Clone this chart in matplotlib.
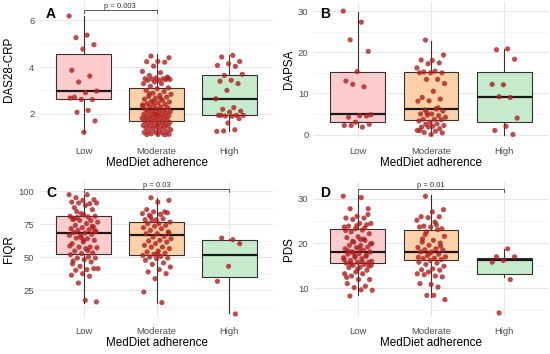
import numpy as np
import matplotlib
matplotlib.use("Agg")
import matplotlib.pyplot as plt
from matplotlib.ticker import MultipleLocator

plt.rcParams['font.family'] = ['Liberation Sans', 'DejaVu Sans']

groups = ["Low", "Moderate", "High"]
xlabel_text = "MedDiet adherence"

# ---------------- Panel A: DAS28-CRP ----------------
A_low = [6.19, 5.37, 5.26, 4.96, 4.77, 3.86, 3.61, 3.36, 2.97, 2.90, 2.71, 2.60,
         2.61, 2.67, 2.14, 2.06, 1.69, 1.20]
A_mod = [4.47, 4.40, 4.24, 4.23, 4.21, 4.04, 3.81, 3.76, 3.64, 3.57, 3.53, 3.50,
         3.50, 3.49, 3.47, 3.43, 3.43, 3.46, 3.36, 3.29, 3.29, 3.17, 3.11, 3.07,
         3.00, 2.95, 2.88, 2.83, 2.79, 2.74, 2.71, 2.67, 2.62, 2.57, 2.52, 2.50,
         2.46, 2.43, 2.40, 2.36, 2.31, 2.29, 2.31, 2.25, 2.21, 2.18, 2.14, 2.11,
         2.09, 2.07, 2.07, 2.03, 2.00, 1.97, 1.95, 1.93, 1.91, 1.89, 1.86, 1.85,
         1.83, 1.80, 1.79, 1.76, 1.74, 1.72, 1.69, 1.66, 1.64, 1.62, 1.60, 1.57,
         1.54, 1.52, 1.50, 1.48, 1.46, 1.46, 1.43, 1.39, 1.39, 1.35, 1.31, 1.29,
         1.26, 1.24, 1.21, 1.20, 1.18, 1.14, 1.12, 1.11, 1.10, 1.07, 2.55, 2.38,
         2.65, 2.85, 3.52, 1.98]
A_high = [4.50, 4.43, 4.24, 4.14, 4.07, 4.03, 3.64, 3.69, 3.43, 3.39, 3.29, 3.00,
          2.64, 2.26, 2.19, 2.11, 2.07, 1.93, 1.93, 1.90, 1.93, 1.89, 1.93, 1.79,
          1.60, 1.24, 1.31, 1.26]
A_q1 = [2.61, 1.70, 1.93]
A_med = [2.96, 2.21, 2.64]
A_q3 = [4.57, 3.11, 3.64]
A_wlo = [1.21, 1.07, 1.24]
A_whi = [6.19, 4.54, 4.50]

# ---------------- Panel B: DAPSA ----------------
B_low = [30.0, 27.3, 23.0, 20.2, 15.3, 13.0, 11.6, 12.2, 4.8, 4.6, 4.2, 4.5,
         3.0, 2.2, 1.8, 2.2, 2.5]
B_mod = [22.96, 19.3, 18.0, 18.1, 17.4, 17.2, 16.2, 15.4, 15.2, 15.0, 15.0, 15.0,
         13.4, 13.4, 12.4, 10.5, 9.0, 8.6, 8.2, 8.1, 6.2, 6.0, 5.7, 5.0, 5.0, 4.6,
         4.7, 4.2, 3.7, 3.7, 3.6, 3.0, 3.3, 2.6, 2.5, 2.2, 2.0, 1.8, 1.4, 1.8, 1.0,
         0.8, 0.5, 0.4, 0.0, 1.0, 6.5, 5.3]
B_high = [20.8, 20.6, 18.3, 12.1, 12.2, 9.0, 9.2, 4.0, 2.0, 1.0, 0.0]
B_q1 = [3.1, 3.6, 2.96]
B_med = [4.96, 6.24, 9.2]
B_q3 = [15.2, 15.2, 15.2]
B_wlo = [1.8, 0.0, 0.0]
B_whi = [29.8, 22.8, 20.8]

# ---------------- Panel C: FIQR ----------------
C_low = [97.3, 97.3, 95.0, 93.5, 93.0, 91.7, 90.5, 91.0, 91.0, 89.2, 87.5, 86.0,
         83.0, 81.0, 80.5, 80.0, 81.0, 82.0, 78.6, 77.9, 77.9, 76.6, 75.4, 74.1,
         72.9, 72.4, 71.6, 70.8, 70.3, 69.6, 68.3, 68.6, 67.3, 66.6, 66.6, 64.0,
         64.5, 62.8, 61.5, 60.3, 57.7, 57.7, 57.2, 56.5, 54.7, 53.2, 52.7, 51.9,
         50.2, 49.4, 49.4, 48.2, 47.2, 46.4, 43.1, 41.4, 40.6, 40.1, 41.4, 37.6,
         36.4, 35.6, 30.5, 16.2, 17.4, 79.0, 73.5, 65.0, 58.5, 55.0, 84.5, 70.0,
         63.0, 45.0]
C_mod = [95.0, 93.0, 91.7, 86.0, 84.3, 84.3, 83.0, 82.4, 81.7, 83.6, 78.4, 78.4,
         79.1, 77.9, 76.6, 75.4, 75.4, 74.1, 73.4, 72.4, 71.6, 70.3, 69.1, 67.8,
         67.8, 65.8, 65.3, 64.0, 62.8, 62.3, 61.5, 60.3, 59.0, 57.7, 57.7, 56.5,
         54.7, 54.0, 53.2, 52.2, 51.4, 50.7, 50.2, 49.4, 48.9, 47.7, 45.7, 44.6,
         42.6, 40.6, 38.9, 37.6, 33.8, 23.7, 15.7, 80.5, 68.5, 52.8]
C_high = [63.3, 64.5, 60.3, 43.1, 31.8, 7.1]
C_q1 = [52.2, 51.4, 35.1]
C_med = [68.3, 66.6, 51.9]
C_q3 = [80.9, 76.6, 62.8]
C_wlo = [15.4, 15.7, 7.9]
C_whi = [97.3, 95.0, 64.0]

# ---------------- Panel D: PDS ----------------
D_low = [30.6, 30.3, 27.8, 27.8, 26.1, 25.7, 25.7, 25.4, 24.5, 24.5, 23.9, 24.2,
         23.3, 23.7, 23.0, 22.6, 22.2, 21.5, 21.3, 20.7, 20.3, 20.0, 19.6, 19.6,
         19.2, 19.1, 18.8, 18.5, 18.1, 18.1, 17.7, 17.6, 17.1, 17.1, 16.8, 16.6,
         16.2, 15.8, 15.8, 15.6, 15.3, 15.1, 15.1, 14.7, 14.6, 14.0, 13.6, 13.2,
         13.2, 12.7, 11.9, 11.9, 11.0, 10.4, 10.1, 9.5, 9.6, 8.2, 26.5, 24.0,
         22.9, 21.0, 20.5, 19.9, 18.9, 18.3, 17.4, 16.9, 16.4, 15.9, 15.5, 14.9,
         14.3, 12.4, 23.5, 17.9, 16.0, 20.9]
D_mod = [30.6, 27.6, 27.1, 26.0, 26.0, 25.8, 25.2, 24.8, 23.9, 23.3, 23.7, 23.7,
         23.1, 22.6, 21.6, 20.7, 20.3, 20.1, 19.6, 19.1, 18.8, 18.6, 18.5, 18.1,
         18.1, 17.6, 17.3, 17.0, 16.7, 16.6, 16.4, 16.2, 15.8, 15.6, 15.3, 14.9,
         14.3, 14.1, 14.0, 13.6, 13.2, 12.7, 13.0, 12.5, 10.8, 11.0, 10.2, 8.35,
         7.4, 8.35, 21.0, 19.4, 17.8, 16.9, 24.2, 22.0]
D_high = [18.8, 17.0, 17.0, 16.2, 15.8, 11.9, 4.4]
D_q1 = [15.6, 16.2, 13.2]
D_med = [18.1, 18.2, 16.2]
D_q3 = [23.3, 23.0, 16.7]
D_wlo = [8.35, 8.0, 12.5]
D_whi = [31.0, 30.8, 18.8]

box_colors = ["#FFCCCE", "#FFD1A8", "#C6EBCC"]
point_color = "#B01E1E"

panels = [
    dict(label="A", ylabel="DAS28-CRP", data=[A_low, A_mod, A_high],
         q1=A_q1, med=A_med, q3=A_q3, wlo=A_wlo, whi=A_whi,
         ylim=(1.0, 6.79), major=2, yticks=[2, 4, 6],
         pos=[40, 2, 273, 137], ylab_x=15.5, bracket=(0, 1, 6.43, 6.33, "p = 0.003")),
    dict(label="B", ylabel="DAPSA", data=[B_low, B_mod, B_high],
         q1=B_q1, med=B_med, q3=B_q3, wlo=B_wlo, whi=B_whi,
         ylim=(-0.6, 32.2), major=10, yticks=[0, 10, 20, 30],
         pos=[314, 2, 548, 137], ylab_x=295, bracket=None),
    dict(label="C", ylabel="FIQR", data=[C_low, C_mod, C_high],
         q1=C_q1, med=C_med, q3=C_q3, wlo=C_wlo, whi=C_whi,
         ylim=(4.8, 106.9), major=25, yticks=[25, 50, 75, 100],
         pos=[40, 182, 273, 317], ylab_x=15.5, bracket=(0, 2, 101.3, 99.3, "p = 0.03")),
    dict(label="D", ylabel="PDS", data=[D_low, D_mod, D_high],
         q1=D_q1, med=D_med, q3=D_q3, wlo=D_wlo, whi=D_whi,
         ylim=(3.5, 33.8), major=10, yticks=[10, 20, 30],
         pos=[314, 182, 548, 317], ylab_x=295, bracket=(0, 2, 32.2, 31.6, "p = 0.01")),
]

W, H = 550, 354
fig = plt.figure(figsize=(W / 100, H / 100), dpi=100)
fig.patch.set_facecolor("white")

grid_col = "#E6E6E6"

for p in panels:
    l, t, r, b = p["pos"]
    ax = fig.add_axes([l / W, 1 - b / H, (r - l) / W, (b - t) / H])
    ax.set_facecolor("white")
    for s in ax.spines.values():
        s.set_visible(False)

    stats = []
    for i in range(3):
        stats.append(dict(q1=p["q1"][i], med=p["med"][i], q3=p["q3"][i],
                          whislo=p["wlo"][i], whishi=p["whi"][i], fliers=[]))
    bp = ax.bxp(stats, positions=range(3), widths=0.75, patch_artist=True,
                showfliers=False, showcaps=False,
                boxprops=dict(edgecolor="#333333", lw=0.8),
                whiskerprops=dict(color="#333333", lw=0.8),
                medianprops=dict(color="#1A1A1A", lw=1.6))
    for patch, c in zip(bp["boxes"], box_colors):
        patch.set_facecolor(c)
        patch.set_zorder(2)
    for w in bp["whiskers"]:
        w.set_zorder(2)
    for m in bp["medians"]:
        m.set_zorder(3)

    for i, vals in enumerate(p["data"]):
        n = len(vals)
        offs = ((np.arange(n) * 0.6180339887 + 0.31 * i) % 1.0 - 0.5) * 0.4
        ax.scatter(i + offs, vals, s=14, color=point_color, alpha=0.8,
                   edgecolors="none", zorder=4)

    ax.set_xlim(-0.6, 2.6)
    ax.set_ylim(*p["ylim"])
    ax.yaxis.set_minor_locator(MultipleLocator(p["major"] / 2))
    ax.set_yticks(p["yticks"])
    ax.set_xticks(range(3))
    ax.set_xticklabels(groups)
    ax.grid(True, which="major", color=grid_col, lw=0.8, zorder=0)
    ax.grid(True, which="minor", axis="y", color="#F0F0F0", lw=0.5, zorder=0)
    ax.set_axisbelow(True)
    ax.tick_params(axis="both", which="both", length=0, labelsize=6.8,
                   labelcolor="#4D4D4D")
    ax.tick_params(axis="x", pad=7)
    ax.tick_params(axis="y", pad=4)

    if p["bracket"] is not None:
        x0, x1, yb, yt, txt = p["bracket"]
        ax.plot([x0, x0, x1, x1], [yt, yb, yb, yt], color="#555555", lw=0.7,
                zorder=5, clip_on=False)
        ax.text((x0 + x1) / 2, yb, txt, ha="center", va="bottom", fontsize=5.5,
                color="#333333", zorder=6, clip_on=False)

    ax.text(0.026, 0.91 if p["label"] in "AB" else 0.92, p["label"],
            transform=ax.transAxes, fontsize=10, fontweight="bold",
            ha="left", va="center", color="black")
    ax.set_xlabel(xlabel_text, fontsize=8.4, color="black", labelpad=1)
    ax.set_ylabel(p["ylabel"], fontsize=8.4, color="black")
    ax.yaxis.set_label_coords((p["ylab_x"] - l) / (r - l), 0.5)

fig.savefig("out.png", dpi=100, facecolor="white")
